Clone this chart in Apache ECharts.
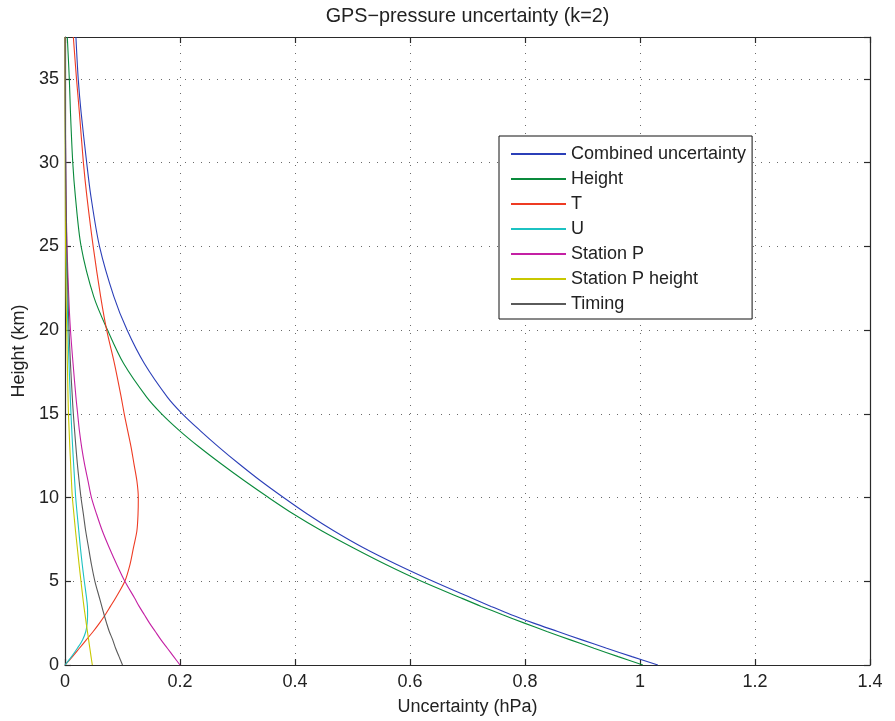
<!DOCTYPE html>
<html>
<head>
<meta charset="utf-8">
<script src="https://cdn.jsdelivr.net/npm/echarts@6/dist/echarts.min.js"></script>
<style>
  html, body { margin: 0; padding: 0; background: #ffffff; overflow: hidden; }
  #chart { width: 895px; height: 721px; }
</style>
</head>
<body>
<div id="chart"></div>
<script>
// ---- data (heights in km, uncertainties in hPa) ----
const titleText = 'GPS\u2212pressure uncertainty (k=2)';
const xTicks = [0, 0.2, 0.4, 0.6, 0.8, 1, 1.2, 1.4];
const yTicks = [0, 5, 10, 15, 20, 25, 30, 35];
const seriesNames = ['Combined uncertainty', 'Height', 'T', 'U', 'Station P', 'Station P height', 'Timing'];

const heights = [0, 0.5, 1, 1.5, 2, 2.5, 3, 3.5, 4, 5, 6, 7, 8, 9, 10, 11, 12, 13, 14, 15, 16, 18, 20, 22, 25, 28, 30, 33, 35, 37.5];

const combined = [1.031, 0.986, 0.942, 0.899, 0.857, 0.815, 0.776, 0.741, 0.707, 0.640, 0.577, 0.519, 0.468, 0.422, 0.380, 0.340, 0.303, 0.268, 0.235, 0.204, 0.178, 0.138, 0.108, 0.085, 0.060, 0.045, 0.0377, 0.028, 0.023, 0.019];
const heightU = [1.005, 0.962, 0.920, 0.879, 0.838, 0.799, 0.761, 0.724, 0.689, 0.620, 0.558, 0.501, 0.447, 0.398, 0.354, 0.312, 0.272, 0.234, 0.199, 0.168, 0.142, 0.102, 0.074, 0.050, 0.028, 0.018, 0.0135, 0.0095, 0.0075, 0.004];
const tempU = [0, 0.013, 0.025, 0.037, 0.049, 0.060, 0.070, 0.079, 0.088, 0.104, 0.113, 0.119, 0.125, 0.127, 0.1275, 0.125, 0.120, 0.115, 0.109, 0.103, 0.0977, 0.086, 0.0725, 0.062, 0.049, 0.038, 0.032, 0.025, 0.020, 0.0145];
const humU = [0, 0.0114, 0.0215, 0.0305, 0.0362, 0.0385, 0.0393, 0.0390, 0.0375, 0.0336, 0.0300, 0.0268, 0.0240, 0.0212, 0.0186, 0.0168, 0.0150, 0.0133, 0.0118, 0.0104, 0.0092, 0.0070, 0.0050, 0.0037, 0.0020, 0.0013, 0.0010, 0.0005, 0.0003, 0.0002];
const stationP = [0.200, 0.189, 0.178, 0.167, 0.157, 0.147, 0.138, 0.129, 0.121, 0.104, 0.090, 0.077, 0.065, 0.055, 0.046, 0.040, 0.034, 0.029, 0.025, 0.022, 0.019, 0.014, 0.0095, 0.0065, 0.0035, 0.0018, 0.0012, 0.0006, 0.0004, 0.0002];
const stationPHeight = [0.0475, 0.0453, 0.0432, 0.0411, 0.0390, 0.0369, 0.0349, 0.0329, 0.0311, 0.0278, 0.0245, 0.0214, 0.0183, 0.0155, 0.0128, 0.0112, 0.0098, 0.0084, 0.0072, 0.0060, 0.0053, 0.0041, 0.0030, 0.0020, 0.0010, 0.0006, 0.0004, 0.0002, 0.0001, 0.0001];
const timing = [0.100, 0.094, 0.088, 0.083, 0.077, 0.0723, 0.068, 0.064, 0.060, 0.052, 0.046, 0.041, 0.036, 0.032, 0.0278, 0.0245, 0.0215, 0.019, 0.0167, 0.0145, 0.0127, 0.0095, 0.0070, 0.0052, 0.0030, 0.0017, 0.0011, 0.0006, 0.0004, 0.0002];

const seriesValues = [combined, heightU, tempU, humU, stationP, stationPHeight, timing];
const seriesColors = ['#2b3fb8', '#0a8a3c', '#ee3b23', '#1cc2c2', '#c420a4', '#c8c800', '#5a5a5a'];

// ---- chart ----
const FONT = "'Liberation Sans', Arial, Helvetica, sans-serif";
const chart = echarts.init(document.getElementById('chart'), null, { renderer: 'canvas' });

const gridStyle = { color: '#6a6a6a', width: 1, type: [1, 7] };
const axisLineStyle = { color: '#2a2a2a', width: 1.2 };

const option = {
  backgroundColor: '#ffffff',
  animation: false,
  textStyle: { fontFamily: FONT },
  graphic: [{
    type: 'text',
    x: 467.5, y: 7,
    style: { text: titleText, fontFamily: FONT, fontSize: 19.8, fill: '#222', align: 'center', verticalAlign: 'top' }
  }],
  grid: { left: 65, right: 25, top: 37, bottom: 49, containLabel: false },
  legend: {
    orient: 'vertical',
    left: 499, top: 136,
    padding: [9, 6, 6, 11],
    itemWidth: 55, itemHeight: 14, itemGap: 7,
    backgroundColor: '#ffffff',
    borderColor: '#111', borderWidth: 1,
    itemStyle: { opacity: 0 },
    textStyle: { fontFamily: FONT, fontSize: 18, color: '#222' },
    data: seriesNames
  },
  xAxis: [{
    type: 'value', min: 0, max: 1.4, interval: 0.2, position: 'bottom',
    name: 'Uncertainty (hPa)', nameLocation: 'middle', nameGap: 33,
    nameTextStyle: { fontFamily: FONT, fontSize: 18, color: '#222' },
    axisLine: { show: true, onZero: false, lineStyle: axisLineStyle },
    axisTick: { show: true, inside: true, length: 6, lineStyle: axisLineStyle },
    axisLabel: { margin: 8, fontFamily: FONT, fontSize: 18, color: '#222', formatter: v => String(+v.toFixed(1)) },
    splitLine: { show: true, lineStyle: gridStyle }
  }, {
    type: 'value', min: 0, max: 1.4, interval: 0.2, position: 'top',
    axisLine: { show: true, onZero: false, lineStyle: axisLineStyle },
    axisTick: { show: true, inside: true, length: 6, lineStyle: axisLineStyle },
    axisLabel: { show: false },
    splitLine: { show: false }
  }],
  yAxis: [{
    type: 'value', min: 0, max: 37.5, interval: 5, position: 'left',
    name: 'Height (km)', nameLocation: 'middle', nameGap: 27,
    nameTextStyle: { fontFamily: FONT, fontSize: 18, color: '#222' },
    axisLine: { show: true, onZero: false, lineStyle: axisLineStyle },
    axisTick: { show: true, inside: true, length: 6, lineStyle: axisLineStyle },
    axisLabel: { margin: 6, fontFamily: FONT, fontSize: 18, color: '#222', showMaxLabel: false,
      formatter: v => (yTicks.indexOf(v) >= 0 ? String(v) : '') },
    splitLine: { show: true, lineStyle: gridStyle }
  }, {
    type: 'value', min: 0, max: 37.5, interval: 5, position: 'right',
    axisLine: { show: true, onZero: false, lineStyle: axisLineStyle },
    axisTick: { show: true, inside: true, length: 6, lineStyle: axisLineStyle },
    axisLabel: { show: false },
    splitLine: { show: false }
  }],
  series: seriesNames.map((name, i) => ({
    name: name,
    type: 'line',
    xAxisIndex: 0, yAxisIndex: 0,
    symbol: 'none',
    smooth: 0.3,
    color: seriesColors[i],
    lineStyle: { color: seriesColors[i], width: 1.1 },
    data: heights.map((h, j) => [seriesValues[i][j], h])
  }))
};

chart.setOption(option);
</script>
</body>
</html>
